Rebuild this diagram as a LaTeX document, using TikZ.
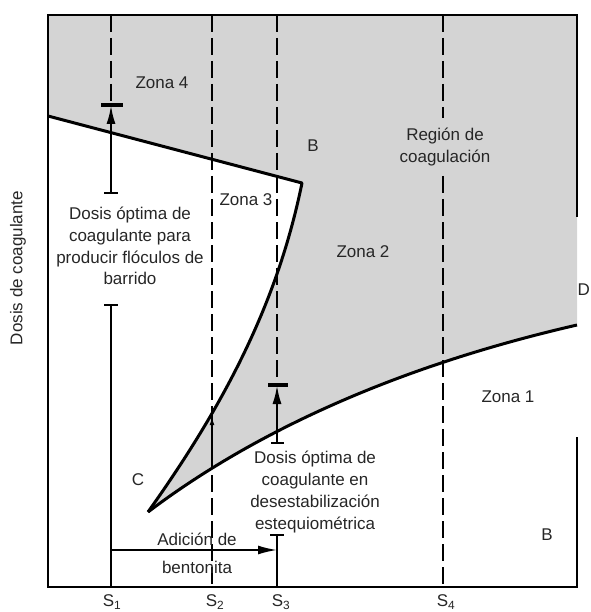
\documentclass[tikz,border=0pt]{standalone}
\usepackage{fontspec}
\setmainfont{Liberation Sans}
\usetikzlibrary{calc,arrows.meta}

\tikzset{
  lbl/.style={font=\fontsize{17}{21.7}\selectfont, text=black!85, inner sep=0pt, align=center},
  dashln/.style={black, line width=2.1pt, dash pattern=on 17pt off 6pt},
  boundln/.style={black, line width=3pt, line join=round},
  framln/.style={black, line width=2.8pt},
  tbarthick/.style={black, line width=3.4pt},
  tbarthin/.style={black, line width=1.8pt},
  optarrow/.style={black, line width=2.4pt, -{Latex[length=19pt,width=9pt]}},
}

\begin{document}
\begin{tikzpicture}[x=1pt, y=-1pt]
  \useasboundingbox (0,0) rectangle (590,612);
  % corner points of the regions
  \coordinate (tl) at (48,15);
  \coordinate (tr) at (577,15);
  \coordinate (bl) at (48,587);
  \coordinate (br) at (577,587);
  \coordinate (lA) at (48,116);
  \coordinate (bend) at (302,183);
  \coordinate (cpt) at (148,512);
  \coordinate (dpt) at (577,325);
  % shaded coagulation region
  \fill[black!17] (tl) -- (tr) -- (dpt) .. controls (390,368) and (250,435) .. (cpt)
    .. controls (235,390) and (280,290) .. (bend) -- (lA) -- cycle;
  % S lines
  \coordinate (s1top) at (111,15);   \coordinate (s1hi) at (111,105);
  \coordinate (s1mid) at (111,193);  \coordinate (s1lo) at (111,305);
  \coordinate (s1bot) at (111,587);
  \coordinate (s2top) at (212,15);   \coordinate (s2bot) at (212,587);
  \coordinate (s2a) at (212,462);    \coordinate (s2b) at (212,414);
  \coordinate (s3top) at (277,15);   \coordinate (s3hi) at (277,385);
  \coordinate (s3mid) at (277,443);  \coordinate (s3lo) at (277,535);
  \coordinate (s3bot) at (277,587);  \coordinate (s3arr) at (277,550);
  \coordinate (s1arr) at (111,550);
  \coordinate (s4top) at (443,15);   \coordinate (s4a) at (443,118);
  \coordinate (s4b) at (443,176);    \coordinate (s4bot) at (443,587);
  \draw[dashln] (s1top) -- (s1hi);
  \draw[dashln] (s2top) -- (s2bot);
  \draw[dashln] (s3top) -- (s3hi);
  \draw[dashln] (s4top) -- (s4a);
  \draw[dashln] (s4b) -- (s4bot);
  % boundaries
  \draw[boundln] (lA) -- (bend) .. controls (280,290) and (235,390) .. (cpt);
  \draw[boundln] (cpt) .. controls (250,435) and (390,368) .. (dpt);
  % frame (right side broken as in the original)
  \draw[framln] (lA) -- (tl) -- (tr) -- (577,217);
  \draw[framln] (577,437) -- (br) -- (bl) -- (lA);
  % optimum dose for sweep floc
  \draw[tbarthick] ($(s1hi)+(-10,0)$) -- ($(s1hi)+(12,0)$);
  \draw[optarrow] (s1mid) -- (s1hi);
  \draw[tbarthin] ($(s1mid)+(-7,0)$) -- ($(s1mid)+(7,0)$);
  \draw[tbarthin] ($(s1lo)+(-7,0)$) -- ($(s1lo)+(7,0)$);
  \draw[black, line width=2.2pt] (s1lo) -- (s1bot);
  % small arrow on S2
  \draw[black, line width=2pt, -{Latex[length=11pt,width=4.5pt]}] (s2a) -- (s2b);
  % optimum dose stoichiometric
  \draw[tbarthick] ($(s3hi)+(-9,0)$) -- ($(s3hi)+(11,0)$);
  \draw[optarrow] (s3mid) -- (s3hi);
  \draw[tbarthin] ($(s3mid)+(-6,0)$) -- ($(s3mid)+(7,0)$);
  \draw[tbarthin] ($(s3lo)+(-7,0)$) -- ($(s3lo)+(7,0)$);
  \draw[black, line width=2.2pt] (s3lo) -- (s3bot);
  % bentonite addition
  \draw[black, line width=1.8pt, -{Latex[length=19pt,width=9pt]}] (s1arr) -- (s3arr);
  % labels
  \node[lbl] (zona4) at (162,83) {Zona 4};
  \node[lbl] (bup) at (313,146) {B};
  \node[lbl] (region) at (445,147) {Región de\\coagulación};
  \node[lbl] (zona3) at (246,200) {Zona 3};
  \node[lbl] (zona2) at (363,252) {Zona 2};
  \node[lbl] (barrido) at (130,246) {Dosis óptima de\\coagulante para\\producir flóculos de\\barrido};
  \node[lbl] (zona1) at (508,397) {Zona 1};
  \node[lbl] (bdown) at (547,535) {B};
  \node[lbl] (clbl) at (138,480) {C};
  \node[lbl, anchor=east] (dlbl) at (590,290) {D};
  \node[lbl] (esteq) at (315,492) {Dosis óptima de\\coagulante en\\desestabilización\\estequiométrica};
  \node[lbl, font=\fontsize{17}{28}\selectfont] (adicion) at (197,553) {Adición de\\bentonita};
  \node[lbl, rotate=90] (ylbl) at (18,268) {Dosis de coagulante};
  \node[lbl] (s1lbl) at (112,602) {S\textsubscript{1}};
  \node[lbl] (s2lbl) at (215,602) {S\textsubscript{2}};
  \node[lbl] (s3lbl) at (281,602) {S\textsubscript{3}};
  \node[lbl] (s4lbl) at (446,602) {S\textsubscript{4}};
\end{tikzpicture}
\end{document}
